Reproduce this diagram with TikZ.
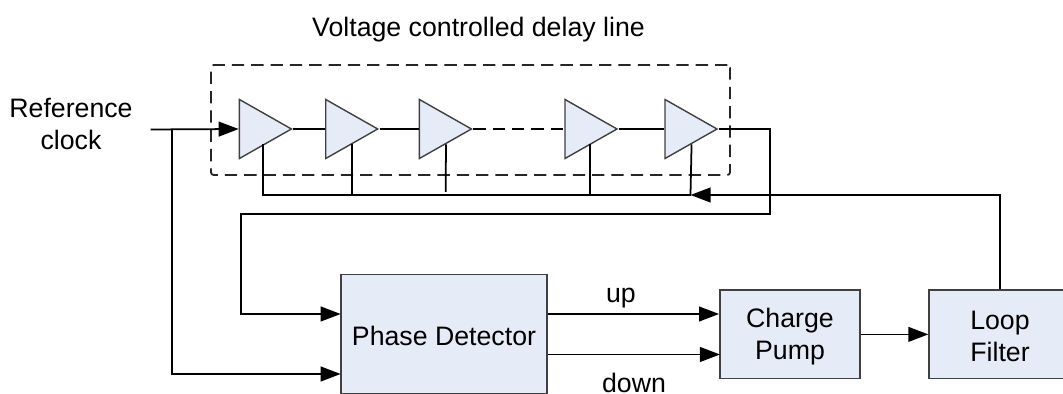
\documentclass[tikz,border=0pt]{standalone}
\usepackage{fontspec}
\setmainfont{Liberation Sans}
\usetikzlibrary{arrows.meta,shapes.geometric}
\definecolor{boxfill}{HTML}{E6ECF7}
\definecolor{boxline}{HTML}{404040}
\tikzset{
  every node/.style={font=\fontsize{15.2}{18.2}\selectfont,align=center},
  block/.style={draw=boxline,fill=boxfill,line width=0.8pt,inner sep=0pt},
  buf/.style={draw=boxline,fill=boxfill,line width=0.8pt,inner sep=0pt,isosceles triangle,isosceles triangle stretches,shape border rotate=0,minimum width=33.6pt,minimum height=29.6pt,anchor=lower side},
  link/.style={line width=1pt,black},
  dashlink/.style={link,dash pattern=on 7pt off 4pt},
  label/.style={inner sep=0pt},
}
\begin{document}
\begin{tikzpicture}[x=0.02cm,y=-0.02cm,>={Triangle[length=11.4pt,width=8.4pt]}]
\useasboundingbox (0,0) rectangle (1063,394);
\clip (0,0) rectangle (1063,394);
\node[draw=black!85,dash pattern=on 7pt off 4pt,rounded corners=1.5pt,line width=1.05pt,minimum width=295.4pt,minimum height=62.6pt,inner sep=0pt] (vcdl) at (470.5,120) {};
\node[buf] (d1) at (238.7,129) {};
\node[buf] (d2) at (325,129) {};
\node[buf] (d3) at (418.7,129) {};
\node[buf] (d4) at (564.3,129) {};
\node[buf] (d5) at (664.3,129) {};
\node[block,minimum width=117.3pt,minimum height=68pt,text height=13.5pt] (pd) at (444,334) {Phase Detector};
\node[block,minimum width=79.9pt,minimum height=50.4pt,text height=31.4pt] (cp) at (790,334.4) {Charge\\Pump};
\node[block,minimum width=80.8pt,minimum height=50.4pt,text height=31.4pt] (lf) at (1000,334.4) {Loop\\Filter};
\path (478.5,30) node[label] (title) {Voltage controlled delay line};
\path (71,124) node[label] (ref) {Reference\\clock};
\path (621,298.5) node[label] (uplabel) {up};
\path (634,382.5) node[label] (downlabel) {down};
\coordinate (refin) at (150.7,129.5);
\coordinate (refsplit) at (172.3,129.5);
\coordinate (pdup) at (340.7,314);
\coordinate (pddown) at (340.7,374);
\coordinate (cpdown) at (720,354.5);
\coordinate (busend) at (690.5,195);
\coordinate (d3end) at (445.7,192);
\coordinate (fbright) at (770.3,214.3);
\coordinate (fbleft) at (241,214.3);
\draw[link,->] (refin) -- (d1.lower side);
\draw[link] (d1.apex) -- (d2.lower side);
\draw[link] (d2.apex) -- (d3.lower side);
\draw[dashlink] (d3.apex) -- (d4.lower side);
\draw[link] (d4.apex) -- (d5.lower side);
\draw[link] ([xshift=-1.5pt]d1.right side) |- (busend);
\draw[link] (d2.right side) -- (d2.right side |- busend);
\draw[link] (d3.right side) -- (d3end);
\draw[link] ([xshift=-1pt]d4.right side) -- ([xshift=-1pt]d4.right side |- busend);
\draw[link] (d5.right side) -- (busend);
\draw[link,->] (lf.north) |- (busend);
\draw[link,->] (d5.apex) -| (fbright) -- (fbleft) |- (pdup);
\draw[link,->] (refsplit) |- (pddown);
\draw[link,->] (pd.east |- pdup) -- (cp.west |- pdup);
\draw[link,->] (pd.east |- cpdown) -- (cpdown);
\draw[link,->] (cp.east) -- (lf.west);
\end{tikzpicture}
\end{document}
